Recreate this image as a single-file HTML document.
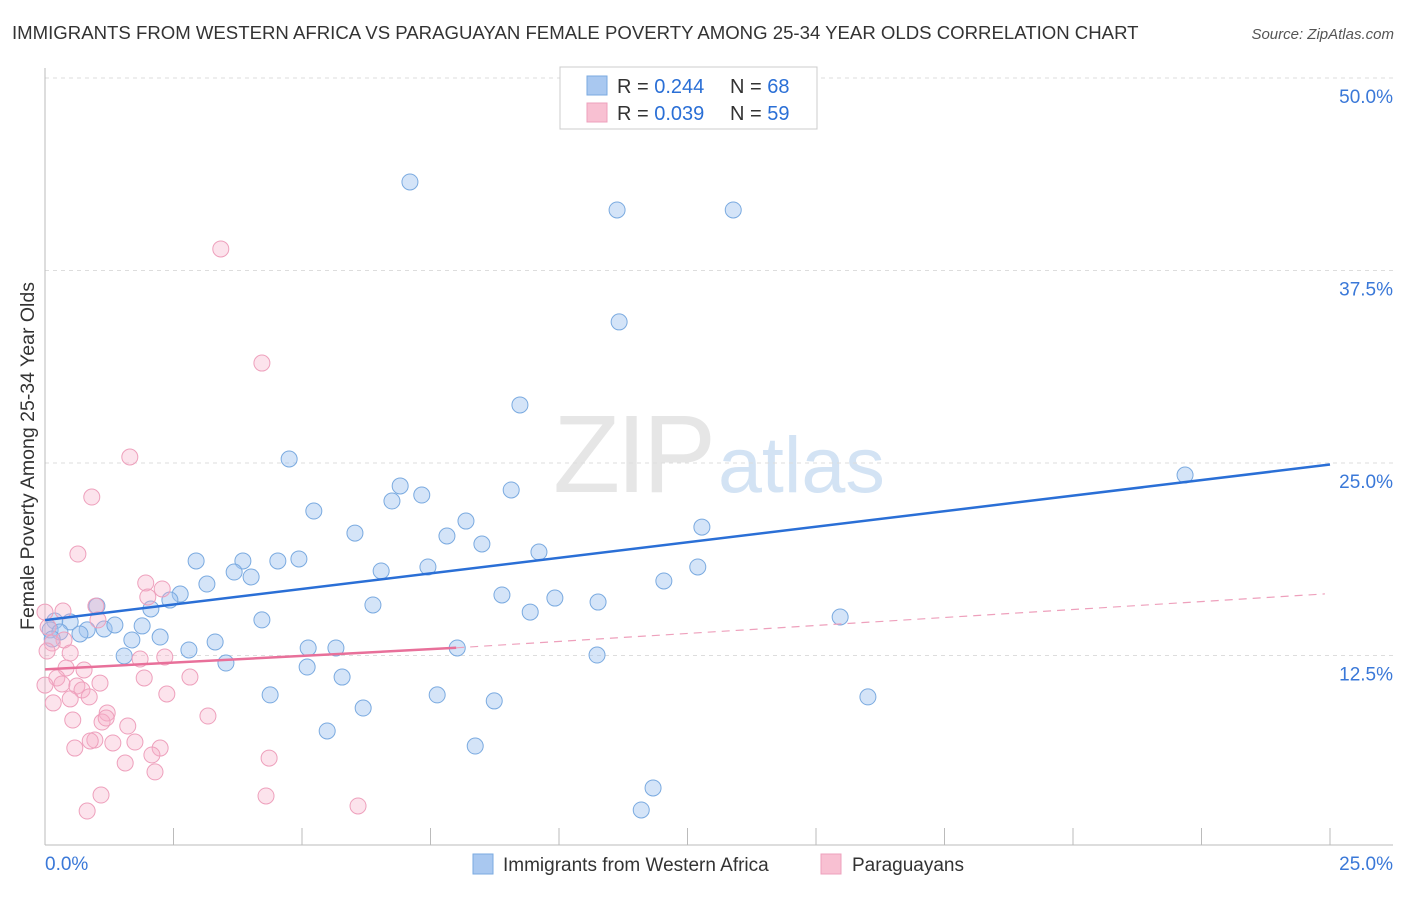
<!DOCTYPE html>
<html><head><meta charset="utf-8"><style>
body{margin:0;background:#fff;font-family:"Liberation Sans",sans-serif;}
svg text{font-family:"Liberation Sans",sans-serif;}
</style></head><body>
<svg id="c" width="1406" height="892" viewBox="0 0 1406 892">
<text x="12" y="39" font-size="18.6" fill="#333">IMMIGRANTS FROM WESTERN AFRICA VS PARAGUAYAN FEMALE POVERTY AMONG 25-34 YEAR OLDS CORRELATION CHART</text>
<text x="1394" y="39" font-size="15" fill="#555" font-style="italic" text-anchor="end">Source: ZipAtlas.com</text>
<g>
<text x="553" y="492" font-size="110" font-family="Liberation Serif" fill="#e6e6e6" letter-spacing="-4">ZIP</text>
<text x="718" y="492" font-size="79" fill="#d3e3f4">atlas</text>
</g>
<g id="grid"></g>
<g id="axes"></g>
<g id="pts"></g>
<g id="lines"></g>
<text transform="translate(34,456) rotate(-90)" font-size="19.5" fill="#333" text-anchor="middle">Female Poverty Among 25-34 Year Olds</text>
<g>
<rect x="560" y="67" width="257" height="62" fill="#fff" stroke="#ccc"/>
<rect x="587" y="76" width="20" height="19" fill="#a9c8f0" stroke="#7aaae0"/>
<rect x="587" y="103" width="20" height="19" fill="#f8c0d2" stroke="#eea0bc"/>
<text x="617" y="93" font-size="20" fill="#333">R = <tspan fill="#2a6fd6">0.244</tspan></text>
<text x="730" y="93" font-size="20" fill="#333">N = <tspan fill="#2a6fd6">68</tspan></text>
<text x="617" y="120" font-size="20" fill="#333">R = <tspan fill="#2a6fd6">0.039</tspan></text>
<text x="730" y="120" font-size="20" fill="#333">N = <tspan fill="#2a6fd6">59</tspan></text>
</g>
<g>
<rect x="473" y="854" width="20" height="20" fill="#a9c8f0" stroke="#7aaae0"/>
<text x="503" y="871" font-size="19" fill="#333">Immigrants from Western Africa</text>
<rect x="821" y="854" width="20" height="20" fill="#f8c0d2" stroke="#eea0bc"/>
<text x="852" y="871" font-size="19" fill="#333">Paraguayans</text>
</g>
</svg>
<script>
const yTicks=[12.5,25,37.5,50];
const yTickLabels=["12.5%","25.0%","37.5%","50.0%"];
const xTickLabels=["0.0%","25.0%"];
const blueX=[7.10,11.13,13.39,11.17,9.24,22.18,4.75,6.91,6.75,7.33,9.07,5.23,8.19,6.03,7.82,8.50,12.78,9.61,2.94,3.85,4.53,4.94,3.68,4.01,6.54,7.45,12.70,12.04,3.15,2.63,2.43,8.89,9.92,10.76,6.38,2.06,9.44,15.47,4.22,1.01,0.19,0.49,0.82,1.15,1.36,1.89,0.10,0.68,0.29,0.14,1.69,2.24,3.31,2.80,5.12,5.66,8.02,1.54,10.74,3.52,5.10,5.78,4.38,7.63,16.01,8.74,6.19,5.49,8.37,11.83,11.60];
const blueY=[43.25,41.43,41.43,34.16,28.77,24.22,25.26,23.51,22.53,22.92,23.25,21.88,21.23,20.45,20.26,19.74,20.84,19.22,18.64,18.64,18.64,18.77,17.92,17.60,17.99,18.25,18.25,17.34,17.14,16.49,16.10,16.43,16.23,15.97,15.78,15.52,15.32,15.00,14.81,15.71,14.74,14.68,14.16,14.22,14.48,14.42,14.16,13.90,14.03,13.57,13.51,13.70,13.38,12.86,12.99,12.99,12.99,12.47,12.53,12.01,11.75,11.10,9.94,9.94,9.81,9.55,9.09,7.60,6.62,3.90,2.47];
const pinkX=[3.42,4.22,1.65,0.91,0.64,1.96,2.28,2.00,0.99,0.35,0,1.03,0.06,0.37,0.14,0.49,0.04,1.85,2.33,0.41,0.76,0.23,0,0.33,0.62,0.72,1.07,1.93,2.82,0.16,0.49,0.86,2.37,3.17,1.21,0.54,1.11,1.61,1.19,0.97,1.32,0.88,1.75,0.58,2.24,2.08,4.36,1.56,2.14,1.09,4.30,6.09,0.82];
const pinkY=[38.90,31.49,25.39,22.79,19.09,17.21,16.82,16.30,15.71,15.39,15.32,14.81,14.35,13.51,13.31,12.66,12.79,12.27,12.40,11.69,11.56,11.04,10.58,10.65,10.52,10.26,10.71,11.04,11.10,9.42,9.68,9.81,10.00,8.57,8.77,8.31,8.18,7.92,8.44,7.01,6.82,6.95,6.88,6.49,6.49,6.04,5.84,5.52,4.94,3.44,3.38,2.73,2.40];
const blueTrend=[[0,14.8],[25,24.9]];
const pinkSolid=[[0,11.6],[8.0,13.0]];
const pinkDash=[[8.0,13.0],[24.9,16.5]];
const X=v=>45+v*51.4, Y=v=>848-v*15.4;
const NS="http://www.w3.org/2000/svg";
function mk(t,a,p){const e=document.createElementNS(NS,t);for(const k in a)e.setAttribute(k,a[k]);p.appendChild(e);return e;}
const grid=document.getElementById('grid'),axes=document.getElementById('axes'),pts=document.getElementById('pts'),lines=document.getElementById('lines');
yTicks.forEach((t,i)=>{
 const g=mk('line',{x1:45,x2:1393,y1:Y(t),y2:Y(t),stroke:'#ddd','stroke-dasharray':'4,4'},grid);
 
 
 const l=mk('text',{x:1393,y:Y(t)+25,'font-size':19,fill:'#3a78d8','text-anchor':'end'},axes);
 l.textContent=yTickLabels[i];
 
 
});
const ya=mk('line',{x1:45,x2:45,y1:68,y2:845,stroke:'#bbb'},axes);


const xa=mk('line',{x1:45,x2:1393,y1:845,y2:845,stroke:'#bbb'},axes);


for(let i=0;i<=10;i++){const t=mk('line',{x1:X(i*2.5),x2:X(i*2.5),y1:828,y2:845,stroke:'#bbb'},axes);
 
 }
[[0,'start',45],[25,'end',1393]].forEach((d,i)=>{const l=mk('text',{x:d[2],y:870,'font-size':19,fill:'#3a78d8','text-anchor':d[1]},axes);
 l.textContent=xTickLabels[i];
 
 });
blueX.forEach((v,i)=>{const c=mk('circle',{cx:X(v),cy:Y(blueY[i]),r:8,fill:'rgba(160,196,240,0.45)',stroke:'#7aaae0','stroke-width':1},pts);
 
 });
pinkX.forEach((v,i)=>{const c=mk('circle',{cx:X(v),cy:Y(pinkY[i]),r:8,fill:'rgba(246,176,200,0.35)',stroke:'#eea0bc','stroke-width':1},pts);
 
 });
const b=mk('line',{x1:X(blueTrend[0][0]),y1:Y(blueTrend[0][1]),x2:X(blueTrend[1][0]),y2:Y(blueTrend[1][1]),stroke:'#2a6fd6','stroke-width':2.5},lines);


const p=mk('line',{x1:X(pinkSolid[0][0]),y1:Y(pinkSolid[0][1]),x2:X(pinkSolid[1][0]),y2:Y(pinkSolid[1][1]),stroke:'#e8709a','stroke-width':2.5},lines);


const pd=mk('line',{x1:X(pinkDash[0][0]),y1:Y(pinkDash[0][1]),x2:X(pinkDash[1][0]),y2:Y(pinkDash[1][1]),stroke:'#eea0bc','stroke-width':1.2,'stroke-dasharray':'8,6'},lines);


</script>
</body></html>
